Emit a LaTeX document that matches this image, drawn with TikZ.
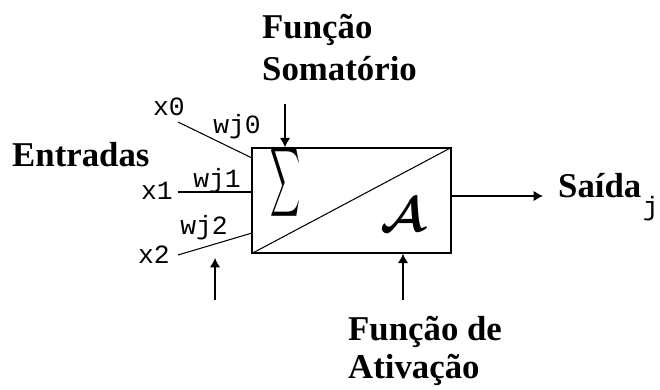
\documentclass[tikz,border=0pt]{standalone}
\usepackage{amsmath,amssymb}
\usepackage{graphicx}
\usepackage{fontspec}
\setmainfont{Liberation Serif}
\setmonofont{Liberation Mono}
\usetikzlibrary{arrows.meta}

\begin{document}
\begin{tikzpicture}[
	rotulo/.style={font=\fontsize{33}{38}\selectfont\bfseries, inner sep=0pt, anchor=base west},
	peso/.style={font=\fontsize{25}{28}\selectfont\ttfamily, inner sep=0pt},
	seta/.style={-{Latex[length=9pt,width=10pt]}, line width=1.2pt}
	]
		\useasboundingbox (0,0) rectangle (22,12.967);
		\node[draw, line width=1.4pt, minimum width=6.63cm, minimum height=3.5cm, inner sep=0pt] (neuron) at (11.717,6.283) {};
		\draw[line width=1pt] (neuron.south west)--(neuron.north east);
		\node (soma) at (9.5,6.867) {\resizebox{1cm}{1.67cm}{$\displaystyle\sum$}};
		\node (ativ) at (13.433,5.8) {\scalebox{4.6}{$\boldsymbol{\mathcal{A}}$}};
		% entradas e pesos
		\node[peso] (x0) at (5.633,9.4) {x0};
		\node[peso] (x1) at (5.233,6.6) {x1};
		\node[peso] (x2) at (5.133,4.467) {x2};
		\node[peso] (w0) at (7.9,8.733) {wj0};
		\node[peso] (w1) at (7.233,6.933) {wj1};
		\node[peso] (w2) at (6.8,5.367) {wj2};
		\coordinate (e0) at (5.933,8.9);
		\coordinate (e1) at (5.933,6.567);
		\coordinate (e2) at (5.933,4.467);
		\coordinate (k0) at (8.4,7.7);
		\coordinate (k2) at (8.4,5.2);
		\draw[line width=1pt] (e0)--(k0);
		\draw[line width=1pt] (e1)--(e1 -| neuron.west);
		\draw[line width=1pt] (e2)--(k2);
		% setas
		\coordinate (fs) at (9.5,9.5);
		\coordinate (fa) at (13.433,2.967);
		\coordinate (pb) at (7.167,2.967);
		\coordinate (pt) at (7.167,4.367);
		\coordinate (out) at (18.1,6.433);
		\draw[seta] (fs)--(fs |- neuron.north);
		\draw[seta] (fa)--(fa |- neuron.south);
		\draw[seta] (pb)--(pt);
		\draw[seta] (neuron.east |- out)--(out);
		% textos
		\node[rotulo] (fsoma1) at (8.733,11.7) {Função};
		\node[rotulo] (fsoma2) at (8.733,10.3) {Somatório};
		\node[rotulo] (entr) at (0.4,7.433) {Entradas};
		\node[rotulo] (fat1) at (11.6,1.633) {Função de};
		\node[rotulo] (fat2) at (11.6,0.367) {Ativação};
		\node[rotulo] (saida) at (18.6,6.4) {Saída};
		\node[peso, anchor=base west] (jj) at (21.42,5.8) {j};
		\end{tikzpicture}
\end{document}
